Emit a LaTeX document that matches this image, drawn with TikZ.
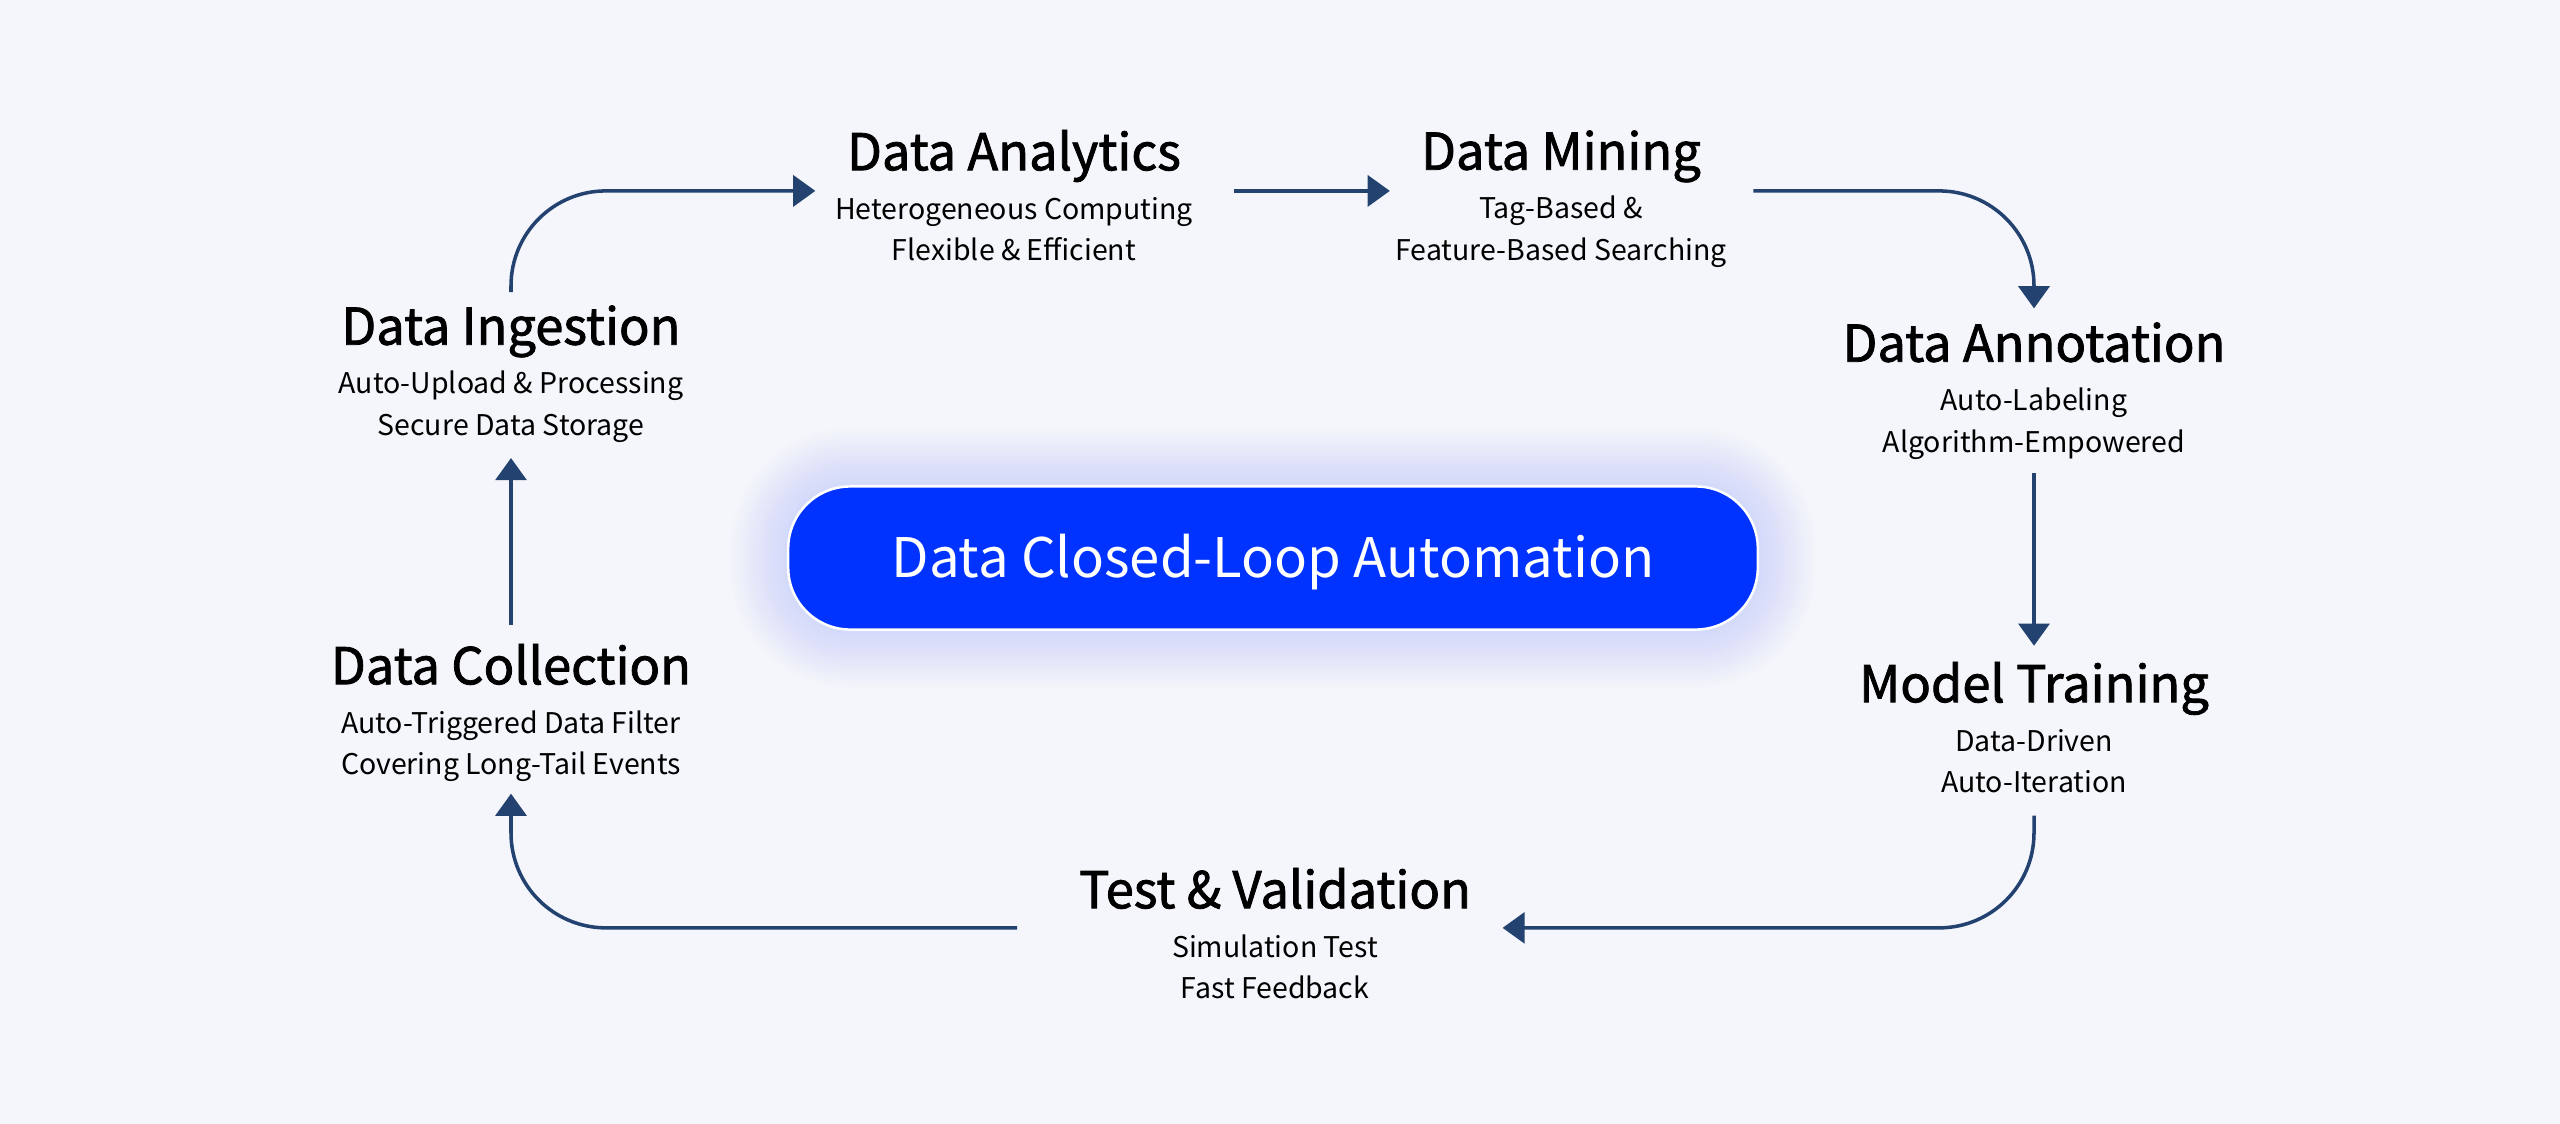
\documentclass[tikz,border=0pt]{standalone}
\usepackage{fontspec}
\setmainfont{Noto Sans CJK SC}
\newfontfamily\titlefont[FakeBold=1.6]{Noto Sans CJK SC}
\usetikzlibrary{arrows.meta,backgrounds}

\definecolor{pagebg}{RGB}{244,246,251}
\definecolor{flowblue}{RGB}{35,66,112}
\definecolor{coreblue}{RGB}{0,51,255}
\definecolor{glowblue}{RGB}{175,188,250}

\tikzset{
	stage/.style={align=center, inner sep=0pt, font=\fontsize{8.1}{11.8}\selectfont},
	flow/.style={draw=flowblue, line width=1pt, rounded corners=27pt,
		-{Triangle[length=6.3pt,width=8.8pt]}},
	core/.style={fill=coreblue, draw=white, line width=0.7pt, rounded corners=0.62cm,
		minimum width=9.69cm, minimum height=1.43cm, text=white,
		text height=11.3pt, text depth=0pt, font=\fontsize{15.5}{18}\selectfont}
}
\newcommand{\stagetext}[3]{{\fontsize{14.4}{17}\titlefont #1}\\[2.2pt]#2\\#3\vphantom{g}}

\begin{document}
\begin{tikzpicture}[x=0.01cm,y=-0.01cm]
	\useasboundingbox (0,0) rectangle (2560,1124);

	% Centre
	\node[core] (core) at (1273,558) {Data Closed-Loop Automation};

	% Stages round the loop
	\node[stage] (ingest) at (511,374) {\stagetext{Data Ingestion}{Auto-Upload \& Processing}{Secure Data Storage}};
	\node[stage] (analytics) at (1014,199) {\stagetext{Data Analytics}{Heterogeneous Computing}{Flexible \& Efficient}};
	\node[stage] (mining) at (1561,199) {\stagetext{Data Mining}{Tag-Based \&}{Feature-Based Searching}};
	\node[stage] (annot) at (2034,391) {\stagetext{Data Annotation}{Auto-Labeling}{Algorithm-Empowered}};
	\node[stage] (train) at (2034,731) {\stagetext{Model Training}{Data-Driven}{Auto-Iteration}};
	\node[stage] (test) at (1275,937) {\stagetext{Test \& Validation}{Simulation Test}{Fast Feedback}};
	\node[stage] (collect) at (511,713) {\stagetext{Data Collection}{Auto-Triggered Data Filter}{Covering Long-Tail Events}};

	% Loop arrows
	\draw[flow] ([yshift=3.6pt]ingest.north) |- ([xshift=-5.4pt,yshift=2.3pt]analytics.west);
	\draw[flow] ([xshift=11.4pt,yshift=2.3pt]analytics.east) -- ([xshift=-1.4pt,yshift=2.3pt]mining.west);
	\draw[flow] ([xshift=7.4pt,yshift=2.3pt]mining.east) -| ([yshift=3.8pt]annot.north);
	\draw[flow] ([yshift=-3.6pt]annot.south) -- ([yshift=4.4pt]train.north);
	\draw[flow] ([yshift=-4.2pt]train.south) |- ([xshift=8.8pt,yshift=2.6pt]test.east);
	\draw[flow] ([xshift=-17.4pt,yshift=2.6pt]test.west) -| ([yshift=-3.1pt]collect.south);
	\draw[flow] ([yshift=5.3pt]collect.north) -- ([yshift=-4.2pt]ingest.south);

	% Page and glow behind the centre
	\begin{scope}[on background layer]
		\fill[pagebg] (0,0) rectangle (2560,1124);
		\foreach \s in {1,...,16}
			\fill[glowblue, fill opacity=0.028, rounded corners={0.62cm+\s*1pt}]
				([shift={({-\s*1pt},{\s*1pt})}]core.north west) rectangle ([shift={(\s*1pt,{-\s*1pt})}]core.south east);
	\end{scope}
\end{tikzpicture}
\end{document}
